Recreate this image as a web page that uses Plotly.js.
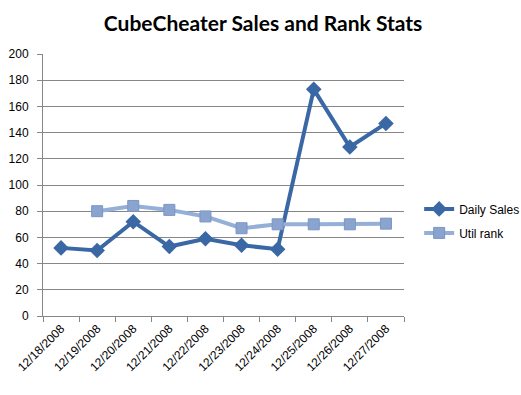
<!DOCTYPE html>
<html>
<head>
<meta charset="utf-8">
<script src="https://cdn.plot.ly/plotly-3.0.1.min.js"></script>
<style>html,body{margin:0;padding:0;background:#fff;}#chart{width:521px;height:395px;}</style>
</head>
<body>
<div id="chart"></div>
<script>
var dates = ["12/18/2008","12/19/2008","12/20/2008","12/21/2008","12/22/2008","12/23/2008","12/24/2008","12/25/2008","12/26/2008","12/27/2008"];
var dailySales = [52, 50, 72, 53, 59, 54, 51, 173, 129, 147];
var utilRank = [null, 80, 84, 81, 76, 67, 70, 70, 70, 70.5];
var yTicks = [0,20,40,60,80,100,120,140,160,180,200];

var traces = [
  {x: dates, y: dailySales, name: "Daily Sales", type: "scatter", mode: "lines+markers", legendgroup: "a",
   line: {color: "#3a68a4", width: 4}, marker: {symbol: "diamond", size: 12, color: "#3a68a4"}},
  {x: dates, y: utilRank, name: "Util rank", type: "scatter", mode: "lines+markers", legendgroup: "b",
   line: {color: "#95b0d8", width: 4}, marker: {symbol: "square", size: 11, color: "#8aa4cf", line:{color:"#7b95c2", width:1}}}
];
var layout = {
  width: 521, height: 395,
  margin: {l: 43, r: 117, t: 54, b: 79, autoexpand: false},
  paper_bgcolor: "#fff", plot_bgcolor: "#fff",
  title: {text: "<b>CubeCheater Sales and Rank Stats</b>", x: 0.505, xanchor: "center", y: 0.94, yanchor: "middle",
          font: {family: "Lato, 'Open Sans', sans-serif", size: 21, color: "#000"}},
  font: {family: "'Liberation Sans', Arial, sans-serif", size: 12, color: "#000"},
  xaxis: {type: "category", tickson: "boundaries", ticks: "outside", ticklen: 5, tickcolor: "#878787",
          showline: true, linecolor: "#878787", linewidth: 1, showgrid: false, tickangle: -45,
          tickfont: {size: 12}, range: [-0.5, 9.5], fixedrange: true, automargin: false},
  yaxis: {range: [0, 200], tickvals: yTicks, ticks: "outside", ticklen: 5, tickcolor: "#878787",
          showline: true, linecolor: "#878787", linewidth: 1, gridcolor: "#878787", gridwidth: 1,
          zeroline: false, tickfont: {size: 12}, ticklabelstandoff: 6, automargin: false},
  legend: {x: 1.042, xanchor: "left", y: 0.363, yanchor: "middle", font: {size: 12}, tracegroupgap: 5,
           itemwidth: 30, bgcolor: "rgba(0,0,0,0)"},
  showlegend: true
};
Plotly.newPlot("chart", traces, layout, {staticPlot: true, displayModeBar: false});
</script>
</body>
</html>
